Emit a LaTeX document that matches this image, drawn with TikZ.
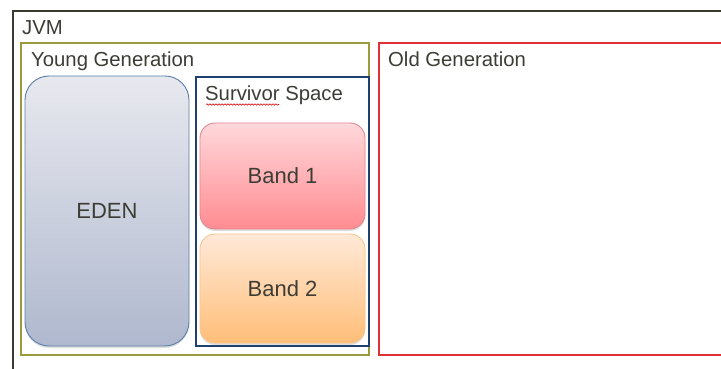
\documentclass[tikz,border=0pt]{standalone}
\usepackage{fontspec}
\setmainfont{Liberation Sans}
\usetikzlibrary{shadows,decorations.pathmorphing}
\definecolor{txt}{HTML}{3D3D36}
\definecolor{jvmc}{HTML}{3A3A30}
\definecolor{youngc}{HTML}{9C9A3C}
\definecolor{oldc}{HTML}{E0303A}
\definecolor{survc}{HTML}{1F3F6F}
\definecolor{edenb}{HTML}{5A7FA8}
\definecolor{edent}{HTML}{E8E9EF}
\definecolor{edenbo}{HTML}{AFB8CE}
\definecolor{bandat}{HTML}{FFD8DB}
\definecolor{bandab}{HTML}{FF8C91}
\definecolor{bandad}{HTML}{E08890}
\definecolor{bandbt}{HTML}{FFE9D8}
\definecolor{bandbb}{HTML}{FFBE78}
\definecolor{bandbd}{HTML}{F5C68C}
\begin{document}
\begin{tikzpicture}[x=1pt,y=-1pt,
  font=\fontsize{20.3}{24}\selectfont, text=txt,
  frame/.style={draw, inner sep=0pt, anchor=north west},
  lbl/.style={anchor=base west, inner sep=0pt},
  blob/.style={draw, inner sep=0pt, line width=0.9pt, font=\fontsize{22}{26}\selectfont,
    drop shadow={opacity=0.25, shadow xshift=0pt, shadow yshift=-2pt}}]
\useasboundingbox (0,0) rectangle (721,369);
\clip (0,0) rectangle (721,369);
\fill[white] (0,0) rectangle (721,369);
% frames
\node[frame, jvmc, line width=2.4pt, minimum width=760pt, minimum height=400pt] (jvm) at (12,10) {};
\node[frame, youngc, line width=2pt, minimum width=348pt, minimum height=312pt] (young) at (20,42) {};
\node[frame, oldc, line width=2pt, minimum width=370pt, minimum height=312pt] (old) at (378,42) {};
\node[frame, survc, line width=2.2pt, minimum width=173pt, minimum height=269pt] (surv) at (195,76) {};
% labels
\node[lbl] (jvml) at (22,35) {JVM};
\node[lbl] (youngl) at (31,66.5) {Young Generation};
\node[lbl] (oldl) at (388,66.5) {Old Generation};
\node[lbl] (survl) at (205,100.5) {Survivor Space};
\draw[red!85!black, line width=0.6pt, decorate, decoration={snake, amplitude=0.7pt, segment length=3pt}] (206,104.5) -- (279,104.5);
% blobs
\node[blob, edenb, rounded corners=24pt, top color=edent, bottom color=edenbo,
  minimum width=164pt, minimum height=270pt, text=txt] (eden) at (107,211) {EDEN};
\node[blob, bandad, rounded corners=15pt, top color=bandat, bottom color=bandab,
  minimum width=165pt, minimum height=106pt, text=txt] (band1) at (282.5,176) {Band 1};
\node[blob, bandbd, rounded corners=15pt, top color=bandbt, bottom color=bandbb,
  minimum width=165pt, minimum height=109pt, text=txt] (band2) at (282.5,288.5) {Band 2};
\end{tikzpicture}
\end{document}
